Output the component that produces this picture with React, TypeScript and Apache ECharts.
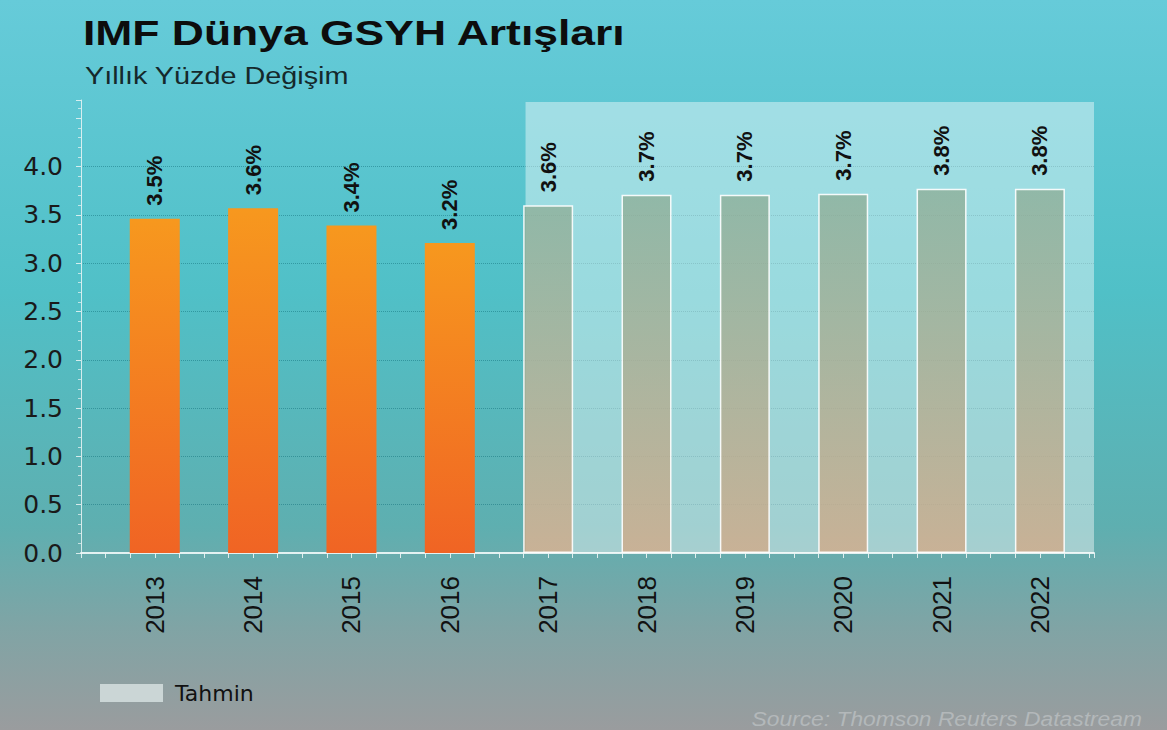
import React, { useEffect, useRef } from 'react';
import * as echarts from 'echarts';

// ---- Data ----
const years = ['2013', '2014', '2015', '2016', '2017', '2018', '2019', '2020', '2021', '2022'];
const actualValues = [3.46, 3.57, 3.39, 3.21];
const forecastValues = [3.6, 3.71, 3.71, 3.72, 3.77, 3.77];
const forecastStartIndex = 4;
const yLabelMax = 4.0;

// forecast shaded region (in axis units)
const shadeStartX = 3.77;
const shadeTopY = 4.67;

const titleText = 'IMF Dünya GSYH Artışları';
const subtitleText = 'Yıllık Yüzde Değişim';
const legendName = 'Tahmin';
const sourceText = 'Source: Thomson Reuters Datastream';

export default function App() {
  const ref = useRef<HTMLDivElement>(null);

  useEffect(() => {
    const chart = echarts.init(ref.current as HTMLDivElement, null, { renderer: 'svg' });

    const actualData = actualValues.map((v, i) => [i, v]);
    const forecastData = forecastValues.map((v, i) => [i + forecastStartIndex, v]);

    const gridColor = 'rgba(10, 105, 115, 0.45)';
    const splitColors: string[] = [];
    for (let i = 0; i < 11; i++) splitColors.push(i <= 8 ? gridColor : 'transparent');

    const labelCommon = {
      show: true,
      position: 'top',
      rotate: 90,
      align: 'left',
      verticalAlign: 'middle',
      distance: 13,
      fontFamily: 'Liberation Sans',
      fontWeight: 'bold',
      fontSize: 22,
      color: '#111111',
      formatter: (p: any) => Number(p.value[1]).toFixed(1) + '%',
    };

    const option: any = {
      animation: false,
      backgroundColor: 'transparent',
      graphic: [
        {
          type: 'rect',
          z: -100,
          silent: true,
          shape: { x: 0, y: 0, width: 1167, height: 730 },
          style: {
            fill: new echarts.graphic.LinearGradient(0, 0, 0, 1, [
              { offset: 0, color: '#66cbd9' },
              { offset: 0.4, color: '#50c0c7' },
              { offset: 0.72, color: '#5eafb0' },
              { offset: 0.86, color: '#80a4a5' },
              { offset: 1, color: '#9a9c9e' },
            ]),
          },
        },
        {
          type: 'text',
          x: 83,
          y: 32.5,
          scaleX: 1.27,
          style: {
            text: titleText,
            fill: '#0d0d0d',
            fontFamily: 'Liberation Sans',
            fontWeight: 'bold',
            fontSize: 35,
            align: 'left',
            verticalAlign: 'middle',
          },
        },
        {
          type: 'text',
          x: 85,
          y: 75.5,
          scaleX: 1.2,
          style: {
            text: subtitleText,
            fill: '#15292b',
            fontFamily: 'Liberation Sans',
            fontSize: 24,
            align: 'left',
            verticalAlign: 'middle',
          },
        },
        {
          type: 'text',
          x: 1142,
          y: 719.5,
          scaleX: 1.17,
          style: {
            text: sourceText,
            fill: '#b3b8ba',
            fontFamily: 'Liberation Sans',
            fontStyle: 'italic',
            fontSize: 19.5,
            align: 'right',
            verticalAlign: 'middle',
          },
        },
      ],
      legend: {
        show: true,
        left: 95,
        top: 677,
        icon: 'rect',
        itemWidth: 63,
        itemHeight: 18,
        selectedMode: false,
        data: [{ name: legendName, itemStyle: { color: '#cbd6d6', borderWidth: 0, opacity: 1 } }],
        textStyle: {
          fontFamily: 'DejaVu Sans',
          fontSize: 22,
          color: '#111111',
          padding: [0, 0, 0, 7],
        },
      },
      grid: {
        left: 81,
        right: 73,
        top: 100,
        bottom: 177,
        containLabel: false,
        outerBoundsMode: 'none',
      },
      xAxis: {
        type: 'value',
        min: -0.75,
        max: 9.55,
        interval: 0.25,
        splitLine: { show: false },
        axisLine: { show: true, onZero: false, lineStyle: { color: 'rgba(235,245,245,0.95)', width: 2 } },
        axisTick: { show: true, length: 5, lineStyle: { color: 'rgba(235,245,245,0.9)', width: 1 } },
        axisLabel: {
          show: true,
          rotate: 90,
          margin: 23,
          fontFamily: 'Liberation Sans',
          fontSize: 26,
          color: '#111111',
          showMinLabel: true,
          showMaxLabel: true,
          formatter: (v: number) => {
            const i = Math.round(v);
            if (Math.abs(v - i) < 1e-6 && i >= 0 && i < years.length) return years[i];
            return '';
          },
        },
      },
      yAxis: {
        type: 'value',
        min: 0,
        max: 4.69,
        interval: 0.5,
        axisLine: { show: true, onZero: false, lineStyle: { color: 'rgba(235,245,245,0.85)', width: 1 } },
        axisTick: { show: true, length: 5, lineStyle: { color: 'rgba(235,245,245,0.85)', width: 1 } },
        minorTick: { show: true, splitNumber: 5, length: 3, lineStyle: { color: 'rgba(235,245,245,0.7)', width: 1 } },
        splitLine: { show: true, lineStyle: { color: splitColors, type: 'dotted', width: 1 } },
        axisLabel: {
          show: true,
          margin: 18,
          fontFamily: 'DejaVu Sans',
          fontSize: 25,
          color: '#1a1a1a',
          formatter: (v: number) => (v <= yLabelMax + 1e-6 ? v.toFixed(1) : ''),
        },
      },
      series: [
        {
          name: 'Gerçekleşen',
          type: 'bar',
          barWidth: 50,
          barGap: '-100%',
          data: actualData,
          z: 3,
          itemStyle: {
            color: new echarts.graphic.LinearGradient(0, 0, 0, 1, [
              { offset: 0, color: '#f7981e' },
              { offset: 1, color: '#f06424' },
            ]),
          },
          label: labelCommon,
        },
        {
          name: legendName,
          type: 'bar',
          barWidth: 50,
          barGap: '-100%',
          data: forecastData,
          z: 3,
          itemStyle: {
            color: new echarts.graphic.LinearGradient(0, 0, 0, 1, [
              { offset: 0, color: 'rgba(140,170,145,0.72)' },
              { offset: 1, color: 'rgba(214,166,128,0.72)' },
            ]),
            borderColor: 'rgba(255,255,255,0.9)',
            borderWidth: 1.5,
          },
          label: labelCommon,
          markArea: {
            silent: true,
            z: 1,
            itemStyle: { color: 'rgba(255,255,255,0.42)' },
            data: [[{ coord: [shadeStartX, 0] }, { coord: [9.55, shadeTopY] }]],
          },
        },
      ],
    };

    chart.setOption(option);
    return () => chart.dispose();
  }, []);

  return <div ref={ref} style={{ position: 'absolute', left: 0, top: 0, width: 1167, height: 730 }} />;
}
